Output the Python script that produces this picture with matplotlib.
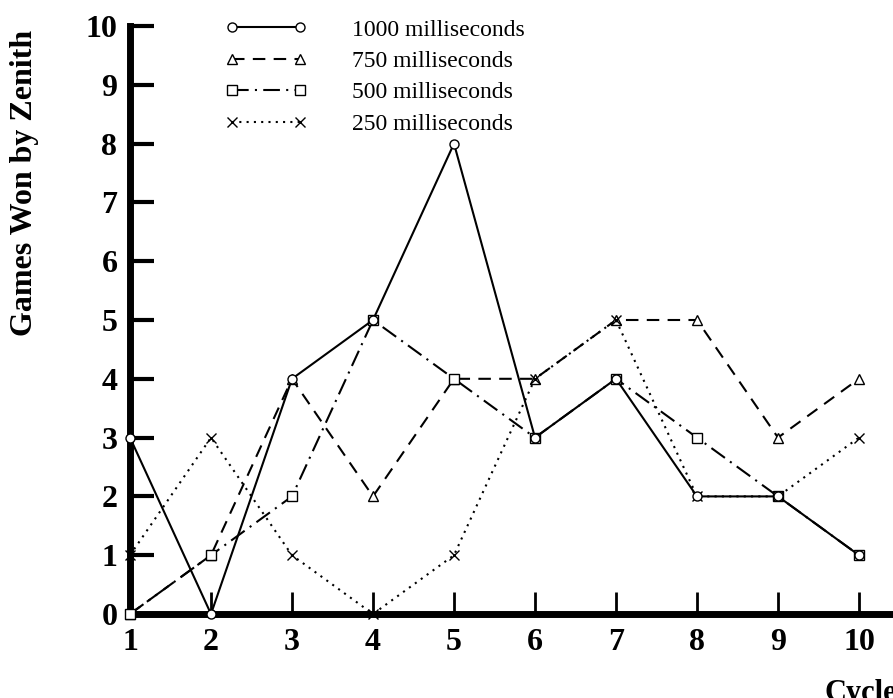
import matplotlib
matplotlib.use("Agg")
import matplotlib.pyplot as plt
from matplotlib.legend_handler import HandlerLine2D

# games won by Zenith per cycle, one list per time limit
cycles = [1, 2, 3, 4, 5, 6, 7, 8, 9, 10]
ms_1000 = [3, 0, 4, 5, 8, 3, 4, 2, 2, 1]
ms_750 = [0, 1, 4, 2, 4, 4, 5, 5, 3, 4]
ms_500 = [0, 1, 2, 5, 4, 3, 4, 3, 2, 1]
ms_250 = [1, 3, 1, 0, 1, 4, 5, 2, 2, 3]
labels = ["1000 milliseconds", "750 milliseconds", "500 milliseconds", "250 milliseconds"]
y_ticks = [0, 1, 2, 3, 4, 5, 6, 7, 8, 9, 10]

plt.rcParams["font.family"] = ["Liberation Serif", "DejaVu Serif"]


class GapHandler(HandlerLine2D):
    """legend sample: line stops short of the two end markers"""
    def create_artists(self, legend, orig_handle, xdescent, ydescent,
                       width, height, fontsize, trans):
        arts = super().create_artists(legend, orig_handle, xdescent, ydescent,
                                      width, height, fontsize, trans)
        line = arts[0]
        x = line.get_xdata()
        gap = 0.75 * fontsize
        line.set_xdata([x[0] + gap, x[-1] - gap])
        line.set_ydata(line.get_ydata()[:2])
        return arts


fig = plt.figure(figsize=(8.93, 6.98), dpi=100)
ax = fig.add_axes([130 / 893, 84 / 698, 1 - 130 / 893, 588 / 698])

kw = dict(color="black", lw=1.5, ms=6.5, mfc="white", mew=1.0, clip_on=False)
ax.plot(cycles, ms_1000, ls="-", marker="o", label=labels[0], zorder=4, **kw)
ax.plot(cycles, ms_750, ls=(0, (6, 4)), marker="^", label=labels[1], zorder=3, **kw)
ax.plot(cycles, ms_500, ls=(0, (8, 3, 1, 3)), marker="s", label=labels[2], zorder=3, **kw)
ax.plot(cycles, ms_250, ls=(0, (1, 2.5)), marker="x", label=labels[3], zorder=3, **kw)

ax.set_xlim(1, 10.42)
ax.set_ylim(0, 10)
ax.set_xticks(cycles)
ax.set_yticks(y_ticks)

for side in ["top", "right"]:
    ax.spines[side].set_visible(False)
ax.spines["left"].set_linewidth(5)
ax.spines["bottom"].set_linewidth(5)
ax.spines["left"].set_capstyle("projecting")
ax.spines["bottom"].set_capstyle("projecting")

ax.tick_params(axis="y", direction="in", length=17, width=3, pad=9,
               labelsize=23)
ax.tick_params(axis="x", direction="in", length=16, width=2, pad=10,
               labelsize=23)
for t in ax.get_xticklabels() + ax.get_yticklabels():
    t.set_fontweight("bold")

fig.text(25 / 893, 1 - 183 / 698, "Games Won by Zenith", rotation=90, ha="center",
         va="center", fontsize=23, fontweight="bold")
fig.text(825 / 893, -0.004, "Cycles", ha="left", va="baseline",
         fontsize=22, fontweight="bold")

leg = ax.legend(loc="upper left", bbox_to_anchor=(207 / 893, 1 - 19 / 698),
                bbox_transform=fig.transFigure, frameon=False, numpoints=2,
                handlelength=5.0, handletextpad=1.15, labelspacing=0.42,
                borderpad=0, borderaxespad=0, fontsize=17,
                handler_map={matplotlib.lines.Line2D: GapHandler()})

fig.savefig("out.png", dpi=100)
